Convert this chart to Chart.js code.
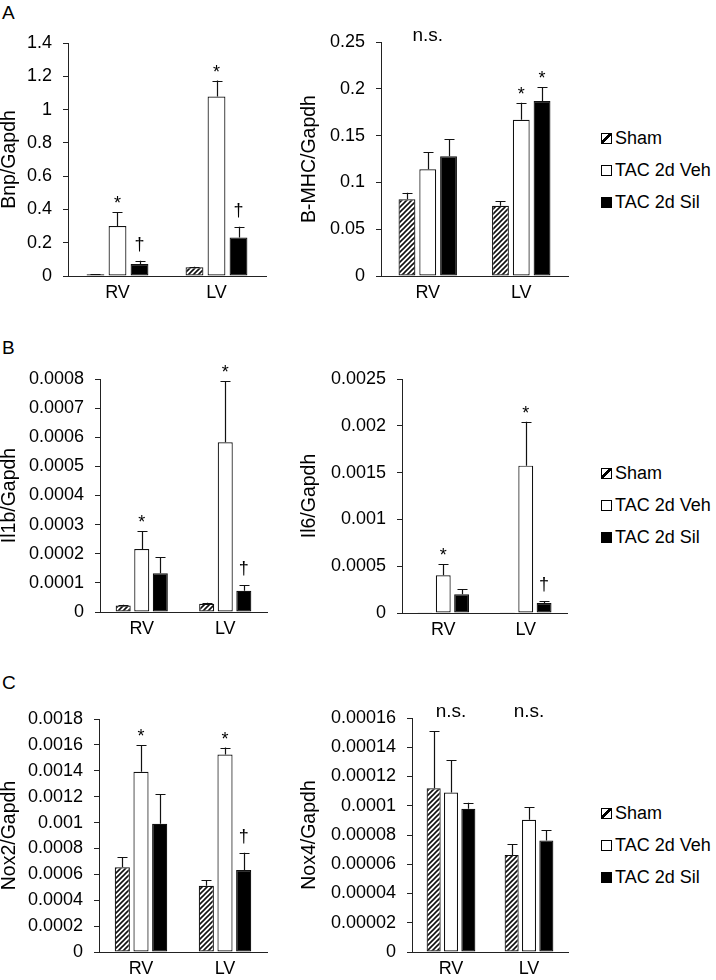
<!DOCTYPE html>
<html>
<head>
<meta charset="utf-8">
<script src="https://cdn.jsdelivr.net/npm/chart.js@4.4.0/dist/chart.umd.min.js"></script>
<style>
  html, body { margin: 0; padding: 0; background: #fff; overflow: hidden; }
  body { width: 716px; height: 980px; position: relative; font-family: "Liberation Sans", Arial, sans-serif; color: #000; }
  canvas { position: absolute; }
  .letter { position: absolute; left: 2px; font-size: 19px; line-height: 19px; }
  .legend { position: absolute; left: 601px; font-size: 18px; }
  .legend div { height: 32px; display: flex; align-items: center; }
  .box { width: 9px; height: 9px; border: 1px solid #000; margin-right: 3px; }
  .sham { background: linear-gradient(to bottom right, #fff 36%, #000 36%, #000 60%, #fff 60%); }
  .sil { background: #000; }
</style>
</head>
<body>
<div class="letter" style="top:3px">A</div>
<div class="letter" style="top:338px">B</div>
<div class="letter" style="top:673px">C</div>

<script>
const categories = ["RV", "LV"];
const groups = ["Sham", "TAC 2d Veh", "TAC 2d Sil"];

// A: Bnp
const bnpTicks = ["0", "0.2", "0.4", "0.6", "0.8", "1", "1.2", "1.4"];
const bnpMean = [[0.010, 0.052], [0.300, 1.078], [0.072, 0.232]];
const bnpErr = [[0.002, 0.003], [0.085, 0.096], [0.020, 0.064]];
const bnpMarks = [["", ""], ["*", "*"], ["†", "†"]];

// A: B-MHC
const mhcTicks = ["0", "0.05", "0.1", "0.15", "0.2", "0.25"];
const mhcMean = [[0.082, 0.075], [0.114, 0.167], [0.128, 0.187]];
const mhcErr = [[0.007, 0.005], [0.018, 0.018], [0.018, 0.015]];
const mhcMarks = [["", ""], ["", "*"], ["", "*"]];
const mhcGroupMarks = ["n.s.", ""];

// B: Il1b
const il1bTicks = ["0", "0.0001", "0.0002", "0.0003", "0.0004", "0.0005", "0.0006", "0.0007", "0.0008"];
const il1bMean = [[0.000022, 0.000028], [0.000216, 0.000583], [0.000133, 0.000073]];
const il1bErr = [[0.000003, 0.000004], [0.000062, 0.000209], [0.000055, 0.00002]];
const il1bMarks = [["", ""], ["*", "*"], ["", "†"]];

// B: Il6
const il6Ticks = ["0", "0.0005", "0.001", "0.0015", "0.002", "0.0025"];
const il6Mean = [[0.000004, 0.000003], [0.000404, 0.001574], [0.0002, 0.000107]];
const il6Err = [[0, 0], [0.00012, 0.00047], [0.000054, 0.00002]];
const il6Marks = [["", ""], ["*", "*"], ["", "†"]];

// C: Nox2
const nox2Ticks = ["0", "0.0002", "0.0004", "0.0006", "0.0008", "0.001", "0.0012", "0.0014", "0.0016", "0.0018"];
const nox2Mean = [[0.000654, 0.000512], [0.001393, 0.001525], [0.00099, 0.000633]];
const nox2Err = [[0.00008, 0.000044], [0.000207, 0.000054], [0.00023, 0.000134]];
const nox2Marks = [["", ""], ["*", "*"], ["", "†"]];

// C: Nox4
const nox4Ticks = ["0", "0.00002", "0.00004", "0.00006", "0.00008", "0.0001", "0.00012", "0.00014", "0.00016"];
const nox4Mean = [[0.000112, 0.0000664], [0.000109, 0.0000904], [0.000098, 0.0000763]];
const nox4Err = [[0.000039, 0.0000072], [0.000022, 0.0000085], [0.000004, 0.000007]];
const nox4Marks = [["", ""], ["", ""], ["", ""]];
const nox4GroupMarks = ["n.s.", "n.s."];

const FONT = '"Liberation Sans", Arial, sans-serif';

const makeHatch = () => {
  const c = document.createElement("canvas");
  c.width = 5;
  c.height = 5;
  const g = c.getContext("2d");
  g.fillStyle = "#fff";
  g.fillRect(0, 0, 5, 5);
  g.strokeStyle = "#111";
  g.lineWidth = 1.6;
  g.beginPath();
  g.moveTo(-1, 6); g.lineTo(6, -1);
  g.moveTo(-1, 1); g.lineTo(1, -1);
  g.moveTo(4, 6); g.lineTo(6, 4);
  g.stroke();
  return g.createPattern(c, "repeat");
};
const fills = [makeHatch(), "#fff", "#000"];

// error bars (upper whisker only) + significance marks
const errorBars = {
  id: "errorBars",
  afterDatasetsDraw(chart, args, opts) {
    const ctx = chart.ctx;
    const y = chart.scales.y;
    const x = chart.scales.x;
    ctx.save();
    ctx.strokeStyle = "#111";
    ctx.lineWidth = 1.2;
    ctx.fillStyle = "#000";
    ctx.font = "18px " + FONT;
    ctx.textAlign = "center";
    ctx.textBaseline = "alphabetic";
    chart.data.datasets.forEach((ds, i) => {
      chart.getDatasetMeta(i).data.forEach((bar, j) => {
        const e = ds.errors[j];
        const top = y.getPixelForValue(ds.data[j] + e);
        const cx = Math.round(bar.x) + 0.5;
        if (e) {
          ctx.beginPath();
          ctx.moveTo(cx, bar.y);
          ctx.lineTo(cx, top);
          ctx.moveTo(cx - 5, Math.round(top) + 0.5);
          ctx.lineTo(cx + 5, Math.round(top) + 0.5);
          ctx.stroke();
        }
        const m = ds.marks[j];
        if (m) {
          const d = ctx.measureText(m).actualBoundingBoxDescent;
          ctx.fillText(m, bar.x, top - 9 - d);
        }
      });
    });
    (opts.groups || []).forEach((t, j) => {
      if (!t) return;
      ctx.font = "19px " + FONT;
      ctx.textBaseline = "middle";
      ctx.fillText(t, x.getPixelForValue(j), chart.chartArea.top - 6);
    });
    ctx.restore();
  },
};

const drawPanel = (p) => {
  const cv = document.createElement("canvas");
  const top = p.area.top - 30;
  cv.width = p.area.right - p.left + 4;
  cv.height = p.area.bottom - top + 45;
  cv.style.left = p.left + "px";
  cv.style.top = top + "px";
  document.body.appendChild(cv);
  const tickVals = p.ticks.map(Number);

  new Chart(cv, {
    type: "bar",
    data: {
      labels: categories,
      datasets: groups.map((name, i) => ({
        label: name,
        data: p.mean[i],
        errors: p.err[i],
        marks: p.marks[i],
        backgroundColor: fills[i],
        borderColor: "#111",
        borderWidth: 1.2,
        borderSkipped: false,
        categoryPercentage: 0.667,
        barPercentage: 0.81,
      })),
    },
    options: {
      responsive: false,
      animation: false,
      events: [],
      layout: { padding: { top: 30, right: 4, bottom: 0, left: 0 } },
      plugins: {
        legend: { display: false },
        tooltip: { enabled: false },
        errorBars: { groups: p.groupMarks },
      },
      scales: {
        x: {
          grid: { display: false, drawTicks: false },
          border: { display: true, color: "#222", width: 1 },
          ticks: { color: "#000", font: { family: FONT, size: 18 }, padding: 6 },
          afterFit: (s) => { s.height = 45; },
        },
        y: {
          min: 0,
          max: tickVals[tickVals.length - 1],
          afterBuildTicks: (s) => { s.ticks = tickVals.map((v) => ({ value: v })); },
          afterFit: (s) => { s.width = p.area.left - p.left; },
          grid: { drawOnChartArea: false, drawTicks: true, tickLength: 5, color: "#222" },
          border: { display: true, color: "#222", width: 1 },
          ticks: {
            color: "#000",
            autoSkip: false,
            font: { family: FONT, size: 18 },
            padding: 11,
            callback: (v, i) => p.ticks[i],
          },
          title: {
            display: true,
            text: p.title,
            color: "#000",
            font: { family: FONT, size: 19.5, lineHeight: 1 },
            padding: 0,
          },
        },
      },
    },
    plugins: [errorBars],
  });
};

const addLegend = (top) => {
  const el = document.createElement("div");
  el.className = "legend";
  el.style.top = top + "px";
  el.innerHTML = groups
    .map((g, i) => `<div><span class="box ${["sham", "veh", "sil"][i]}"></span>${g}</div>`)
    .join("");
  document.body.appendChild(el);
};

drawPanel({ left: 0, area: { left: 68, right: 266, top: 43, bottom: 276 }, title: "Bnp/Gapdh",
  ticks: bnpTicks, mean: bnpMean, err: bnpErr, marks: bnpMarks });
drawPanel({ left: 300, area: { left: 381, right: 568, top: 42, bottom: 276 }, title: "B-MHC/Gapdh",
  ticks: mhcTicks, mean: mhcMean, err: mhcErr, marks: mhcMarks, groupMarks: mhcGroupMarks });
drawPanel({ left: 0, area: { left: 100, right: 267, top: 379, bottom: 612 }, title: "Il1b/Gapdh",
  ticks: il1bTicks, mean: il1bMean, err: il1bErr, marks: il1bMarks });
drawPanel({ left: 300, area: { left: 402, right: 567, top: 379, bottom: 613 }, title: "Il6/Gapdh",
  ticks: il6Ticks, mean: il6Mean, err: il6Err, marks: il6Marks });
drawPanel({ left: 0, area: { left: 99, right: 267, top: 719, bottom: 952 }, title: "Nox2/Gapdh",
  ticks: nox2Ticks, mean: nox2Mean, err: nox2Err, marks: nox2Marks });
drawPanel({ left: 300, area: { left: 412, right: 568, top: 718, bottom: 952 }, title: "Nox4/Gapdh",
  ticks: nox4Ticks, mean: nox4Mean, err: nox4Err, marks: nox4Marks, groupMarks: nox4GroupMarks });

addLegend(122);
addLegend(457);
addLegend(797);
</script>
</body>
</html>
